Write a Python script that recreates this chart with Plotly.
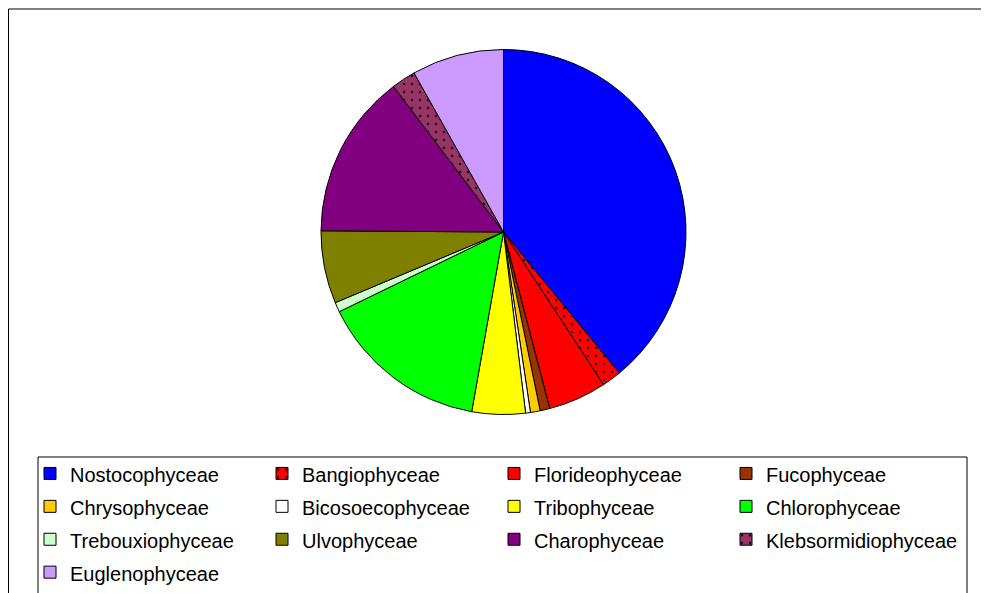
import plotly.graph_objects as go

CLASSES = [
    "Nostocophyceae", "Bangiophyceae", "Florideophyceae", "Fucophyceae",
    "Chrysophyceae", "Bicosoecophyceae", "Tribophyceae", "Chlorophyceae",
    "Trebouxiophyceae", "Ulvophyceae", "Charophyceae", "Klebsormidiophyceae",
    "Euglenophyceae",
]
COUNTS = [91, 4, 12, 2, 2, 1, 11, 35, 2, 15, 34, 5, 19]
COLORS = [
    "#0000FF", "#FF0000", "#FF0000", "#993300",
    "#FFCC00", "#FFFFFF", "#FFFF00", "#00FF00",
    "#CCFFCC", "#808000", "#800080", "#993366",
    "#CC99FF",
]
PATTERNS = ["", ".", "", "", "", "", "", "", "", "", "", ".", ""]

# page has an 8px body margin, so the figure is 8px smaller on each side
OFF = 8
FW, FH = 989 - OFF, 593 - OFF


def px(x):
    return (x - OFF) / FW


def py(y):
    return 1 - (y - OFF) / FH


CX, CY, R = 503.5, 232, 182.5

# legend text drawn at 20px inside a 23px legend font -> taller rows like the original
labels = ["<span style='font-size:20px'>%s</span>" % c for c in CLASSES]

fig = go.Figure()

fig.add_trace(go.Pie(
    labels=labels, values=COUNTS,
    sort=False, direction="clockwise", rotation=0,
    textinfo="none", hoverinfo="label+value+percent",
    marker=dict(
        colors=COLORS,
        line=dict(color="#000000", width=1),
        pattern=dict(shape=PATTERNS, fgcolor="#000000", bgcolor=COLORS,
                     size=8, solidity=0.07),
    ),
    domain=dict(x=[px(CX - R), px(CX + R)], y=[py(CY + R), py(CY - R)]),
))

# outer chart frame (top + left) and legend box (top, left, right)
frame = dict(color="#000000", width=1)
fig.add_shape(type="line", xref="paper", yref="paper",
              x0=0.5 / FW, x1=1, y0=py(9), y1=py(9), line=frame)
fig.add_shape(type="line", xref="paper", yref="paper",
              x0=0.5 / FW, x1=0.5 / FW, y0=0, y1=py(9), line=frame)
fig.add_shape(type="line", xref="paper", yref="paper",
              x0=px(38), x1=px(967), y0=py(457), y1=py(457), line=frame)
fig.add_shape(type="line", xref="paper", yref="paper",
              x0=px(38), x1=px(38), y0=0, y1=py(457), line=frame)
fig.add_shape(type="line", xref="paper", yref="paper",
              x0=px(967), x1=px(967), y0=0, y1=py(457), line=frame)

fig.update_layout(
    width=FW, height=FH,
    margin=dict(l=0, r=0, t=0, b=0, autoexpand=False),
    paper_bgcolor="#FFFFFF",
    plot_bgcolor="#FFFFFF",
    font=dict(family="Arial, Liberation Sans, sans-serif", color="#000000"),
    showlegend=True,
    legend=dict(
        orientation="h",
        x=px(30), xanchor="left",
        y=py(452), yanchor="top",
        entrywidth=232 - 45, entrywidthmode="pixels",
        font=dict(size=23, color="#000000"),
        bgcolor="rgba(0,0,0,0)",
        traceorder="normal",
        itemclick=False, itemdoubleclick=False,
    ),
)

fig.write_html("out.html")
